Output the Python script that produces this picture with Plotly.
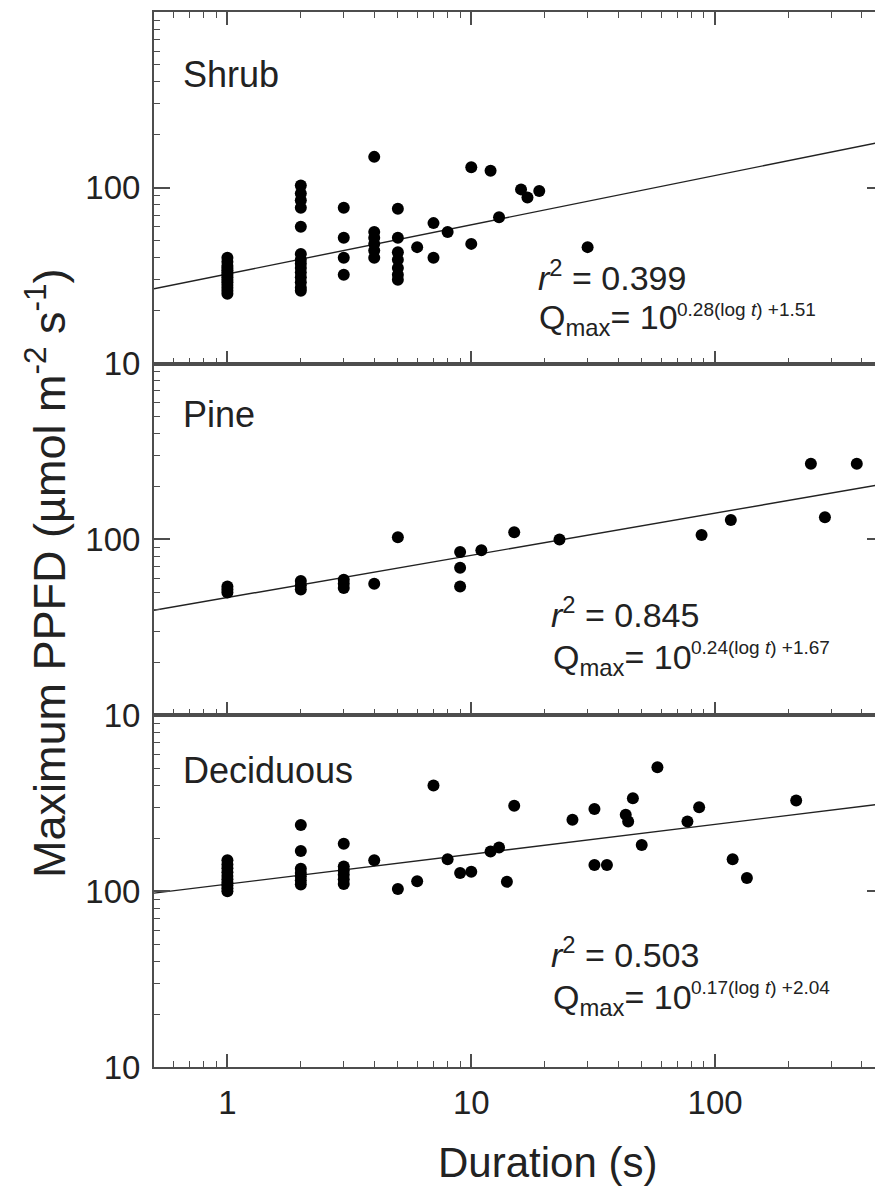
import math
import plotly.graph_objects as go

# ---------------- data ----------------
panel_names = ["Shrub", "Pine", "Deciduous"]

shrub_t = [1] * 14 + [2] * 14 + [3] * 4 + [4] * 6 + [5] * 7 + [6, 7, 7, 8, 10, 10, 12, 13, 16, 17, 19, 30]
shrub_q = ([25, 26, 27, 28, 29, 30, 31, 32, 33, 34, 35, 36, 38, 40]
           + [103, 93, 85, 77, 60, 42, 39, 37, 35, 33, 31, 29, 27, 26]
           + [77, 52, 40, 32]
           + [150, 56, 52, 48, 44, 40]
           + [76, 52, 43, 39, 35, 32, 30]
           + [46, 63, 40, 56, 131, 48, 125, 68, 98, 88, 96, 46])

pine_t = [1, 1, 1, 2, 2, 2, 3, 3, 3, 4, 5, 9, 9, 9, 11, 15, 23, 88, 116, 247, 282, 381]
pine_q = [54, 52, 50, 58, 55, 52, 59, 56, 53, 56, 103, 85, 69, 54, 87, 110, 100, 106, 129, 270, 134, 270]

decid_t = ([1] * 10 + [2] * 7 + [3] * 6
           + [4, 5, 6, 7, 8, 9, 10, 12, 13, 14, 15, 26, 32, 32, 36, 43, 44, 46, 50, 58, 77, 86, 118, 135, 215])
decid_q = ([100, 104, 108, 112, 117, 122, 128, 135, 142, 150]
           + [238, 169, 134, 127, 121, 115, 109]
           + [186, 138, 131, 124, 117, 110]
           + [150, 103, 114, 399, 152, 127, 129, 168, 177, 113, 306, 255, 293, 141, 141, 272, 249, 338, 183,
              506, 249, 300, 152, 119, 328])

fit_slope = [0.28, 0.24, 0.17]
fit_intercept = [1.51, 1.67, 2.04]
r2_text = ["0.399", "0.845", "0.503"]

x_ticks = [1, 10, 100]
y_ticks = [10, 100]
x_range = [0.5, 488]
y_range = [10, 1000]

# ---------------- figure ----------------
OFF = 8  # page body margin
W, H = 883 - OFF, 1191 - OFF
ML, MR, MT, MB = 154 - OFF, 0, 12 - OFF, 124
PW, PH = W - ML - MR, H - MT - MB


def px(x):  # page pixel -> paper x
    return (x - OFF - ML) / PW


def py(y):  # page pixel -> paper y
    return (H - MB - (y - OFF)) / PH


FONT = "Liberation Sans, Arial, Helvetica, sans-serif"
AX = "#4d4d4d"
TXT = "#222"

series = [(shrub_t, shrub_q), (pine_t, pine_q), (decid_t, decid_q)]
axis_suffix = ["", "2", "3"]
domains = [[2 / 3, 1], [1 / 3, 2 / 3], [0, 1 / 3]]

fig = go.Figure()
for i, (t, q) in enumerate(series):
    xa, ya = "x" + axis_suffix[i], "y" + axis_suffix[i]
    lx = list(x_range)
    ly = [10 ** (fit_slope[i] * math.log10(v) + fit_intercept[i]) for v in lx]
    fig.add_trace(go.Scatter(x=lx, y=ly, mode="lines", line=dict(color="#222", width=1.4),
                             xaxis=xa, yaxis=ya, showlegend=False, hoverinfo="skip"))
    fig.add_trace(go.Scatter(x=t, y=q, mode="markers", marker=dict(color="black", size=12),
                             xaxis=xa, yaxis=ya, showlegend=False))

x_minor = [m * 10 ** e for e in range(-1, 3) for m in range(2, 10) if x_range[0] < m * 10 ** e < x_range[1]]
y_minor = [m * 10 ** e for e in (1, 2) for m in range(2, 10)]

layout = dict(
    width=W, height=H,
    margin=dict(l=ML, r=MR, t=MT, b=MB, autoexpand=False),
    paper_bgcolor="white", plot_bgcolor="white",
    font=dict(family=FONT, color=TXT),
    showlegend=False,
)
for i in range(3):
    s = axis_suffix[i]
    layout["xaxis" + s] = dict(
        type="log", range=[math.log10(x_range[0]), math.log10(x_range[1])],
        domain=[0, 1], anchor="y" + s,
        showline=True, linecolor=AX, linewidth=2,
        mirror="ticks" if i == 0 else True,
        ticks="inside", ticklen=13, tickwidth=1.5, tickcolor=AX,
        tickmode="array", tickvals=x_ticks, ticktext=[str(v) for v in x_ticks],
        showticklabels=(i == 2), tickfont=dict(size=33, family=FONT, color=TXT),
        ticklabelstandoff=5,
        minor=dict(tickmode="array", tickvals=x_minor, ticks="inside", ticklen=6,
                   tickwidth=1.2, tickcolor=AX, showgrid=False),
        showgrid=False, zeroline=False,
    )
    layout["yaxis" + s] = dict(
        type="log", range=[math.log10(y_range[0]), math.log10(y_range[1])],
        domain=domains[i], anchor="x" + s,
        showline=True, linecolor=AX, linewidth=2, mirror="ticks",
        ticks="inside", ticklen=16, tickwidth=1.5, tickcolor=AX,
        tickmode="array", tickvals=y_ticks, ticktext=[str(v) for v in y_ticks],
        tickfont=dict(size=33, family=FONT, color=TXT),
        ticklabelstandoff=5,
        minor=dict(tickmode="array", tickvals=y_minor, ticks="inside", ticklen=6,
                   tickwidth=1.2, tickcolor=AX, showgrid=False),
        showgrid=False, zeroline=False,
    )
fig.update_layout(**layout)

# ---------------- annotations (positions in page pixels) ----------------
label_y = [74, 415, 770]
r2_pos = [(537, 298), (550, 635), (550, 975)]
q_pos = [(538, 342), (552, 682), (552, 1022)]
sup_pos = [(676, 321), (690, 659), (690, 999)]

ann = []
for i in range(3):
    ann.append(dict(x=px(181), y=py(label_y[i]), xref="paper", yref="paper", xanchor="left", yanchor="middle",
                    text=panel_names[i], showarrow=False, font=dict(size=36, family=FONT, color=TXT)))
    ann.append(dict(x=px(r2_pos[i][0]), y=py(r2_pos[i][1]), xref="paper", yref="paper",
                    xanchor="left", yanchor="bottom", borderpad=0,
                    text="<i>r</i><sup>2</sup> = " + r2_text[i], showarrow=False,
                    font=dict(size=34, family=FONT, color=TXT)))
    ann.append(dict(x=px(q_pos[i][0]), y=py(q_pos[i][1]), xref="paper", yref="paper",
                    xanchor="left", yanchor="bottom", borderpad=0,
                    text="Q<sub>max</sub>= 10", showarrow=False,
                    font=dict(size=34, family=FONT, color=TXT)))
    ann.append(dict(x=px(sup_pos[i][0]), y=py(sup_pos[i][1]), xref="paper", yref="paper",
                    xanchor="left", yanchor="bottom", borderpad=0,
                    text="%.2f(log <i>t</i>) +%.2f" % (fit_slope[i], fit_intercept[i]), showarrow=False,
                    font=dict(size=19, family=FONT, color=TXT)))

ann.append(dict(x=px(547), y=py(1162), xref="paper", yref="paper", xanchor="center", yanchor="middle",
                text="Duration (s)", showarrow=False, font=dict(size=42, family=FONT, color=TXT)))
ann.append(dict(x=px(46), y=py(574), xref="paper", yref="paper", xanchor="center", yanchor="middle",
                text="Maximum PPFD (µmol m<sup>-2</sup> s<sup>-1</sup>)", textangle=-90, showarrow=False,
                font=dict(size=45, family=FONT, color=TXT)))
fig.update_layout(annotations=ann)

fig.write_html("out.html")
